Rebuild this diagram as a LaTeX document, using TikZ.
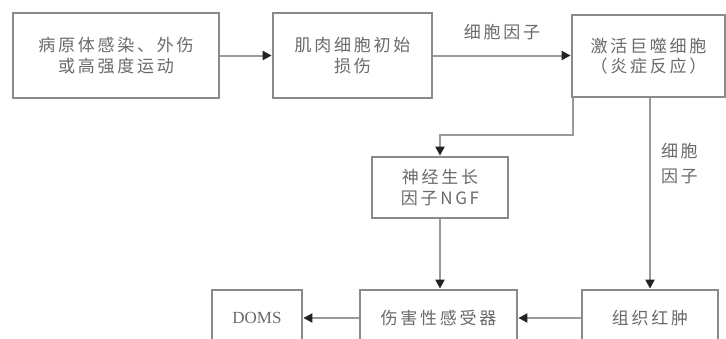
\documentclass[tikz,border=0pt]{standalone}
\usepackage{fontspec}
\newfontfamily\cjk[LetterSpace=16]{Noto Sans CJK SC}
\newfontfamily\latinserif{Liberation Serif}
\usetikzlibrary{arrows.meta}
\definecolor{boxline}{HTML}{8A8A8A}
\definecolor{conline}{HTML}{9A9A9A}
\definecolor{txtgray}{HTML}{6A6A6A}
\definecolor{tipdark}{HTML}{222222}
\tikzset{
  box/.style={draw=boxline, line width=2.8pt, fill=white, align=center,
    text=txtgray, font=\cjk\fontsize{17}{20.5}\selectfont, inner sep=0pt},
  conn/.style={draw=conline, line width=2pt,
    -{Triangle[length=9pt,width=9pt,color=tipdark]}},
  lbl/.style={text=txtgray, font=\cjk\fontsize{17}{25}\selectfont, align=center, inner sep=0pt}
}
\begin{document}
\begin{tikzpicture}[x=1pt,y=-1pt]
\useasboundingbox (0,0) rectangle (726,338);
\clip (0,0) rectangle (726,338);
\fill[white] (0,0) rectangle (726,338);
\node[box, minimum width=206pt, minimum height=85pt] (b1) at (116,55.5) {病原体感染、外伤\\或高强度运动};
\node[box, minimum width=159pt, minimum height=85pt] (b2) at (352.5,55.5) {肌肉细胞初始\\损伤};
\node[box, minimum width=153pt, minimum height=82pt] (b3) at (648.5,56) {激活巨噬细胞\\（炎症反应）};
\node[box, minimum width=136pt, minimum height=61pt] (b4) at (440,187.5) {神经生长\\因子NGF};
\node[box, minimum width=157pt, minimum height=56pt] (b5) at (438.5,318) {伤害性感受器};
\node[box, minimum width=90pt, minimum height=56pt, font=\latinserif\fontsize{17}{20}\selectfont] (b6) at (257,318) {DOMS};
\node[box, minimum width=136pt, minimum height=56pt] (b7) at (650,318) {组织红肿};
\draw[conn] (b1.east) -- (b2.west);
\draw[conn] (b2.east) -- (b3.west |- b2.east) node[lbl, midway, above=15pt] (l1) {细胞因子};
\coordinate (s1) at (573,97);
\coordinate (k1) at (573,135);
\draw[conn] (s1) -- (k1) -| (b4.north);
\draw[conn] (b7.north |- b3.south) -- (b7.north) node[lbl, pos=0.34, right=10pt] (l2) {细胞\\因子};
\draw[conn] (b4.south) -- (b4.south |- b5.north);
\draw[conn] (b7.west) -- (b5.east);
\draw[conn] (b5.west) -- (b6.east);
\end{tikzpicture}
\end{document}
